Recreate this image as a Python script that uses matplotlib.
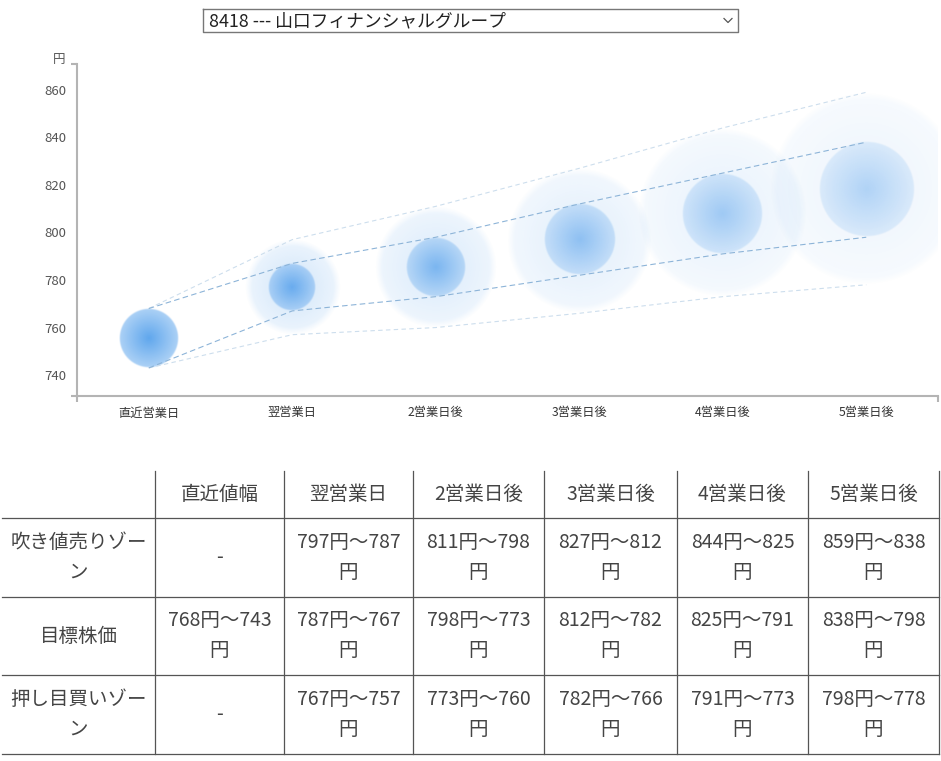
import numpy as np
import matplotlib.pyplot as plt
from matplotlib.colors import to_rgb

plt.rcParams['font.family'] = ['Noto Sans CJK JP', 'DejaVu Sans']

# データ
title = "8418 --- 山口フィナンシャルグループ"
days = ["直近営業日", "翌営業日", "2営業日後", "3営業日後", "4営業日後", "5営業日後"]
col_heads = ["", "直近値幅", "翌営業日", "2営業日後", "3営業日後", "4営業日後", "5営業日後"]
row_labels = ["吹き値売りゾー\nン", "目標株価", "押し目買いゾー\nン"]
target_hi = [768, 787, 798, 812, 825, 838]
target_lo = [743, 767, 773, 782, 791, 798]
sell_hi = [797, 811, 827, 844, 859]   # 翌営業日以降
buy_lo = [757, 760, 766, 773, 778]
yticks = [740, 760, 780, 800, 820, 840, 860]

W, H = 941, 761
fig = plt.figure(figsize=(W / 100, H / 100), dpi=100)

# チャート領域(ピクセル)
ax_l, ax_r, ax_t, ax_b = 77, 938, 64, 396
ylo, yhi = 731.2, 870.9
ax = fig.add_axes([ax_l / W, 1 - ax_b / H, (ax_r - ax_l) / W, (ax_b - ax_t) / H])

px_x = (ax_r - ax_l) / 6.0
px_y = (ax_b - ax_t) / (yhi - ylo)
base = to_rgb("#3d93ea")


def bubble(x, y, r, a0, a1, soft):
    r_px = r * px_y
    rx = r_px / px_x
    n = 300
    g = np.linspace(-1, 1, n)
    X, Y = np.meshgrid(g, g)
    R = np.hypot(X, Y)
    edge = np.clip((1 - R) * r_px / soft, 0, 1)
    img = np.zeros((n, n, 4))
    img[..., :3] = base
    img[..., 3] = (a0 + (a1 - a0) * np.clip(R, 0, 1)) * edge
    ax.imshow(img, extent=[x - rx, x + rx, y - r, y + r], origin="lower",
              interpolation="bilinear", aspect="auto", zorder=2)


xs = np.arange(len(days))
# 日ごとに薄くなる
inner_a0 = [0.82, 0.70, 0.60, 0.50, 0.42, 0.34]
inner_a1 = [0.42, 0.32, 0.26, 0.21, 0.17, 0.13]
outer_a0 = [0, 0.24, 0.20, 0.16, 0.13, 0.10]
outer_a1 = [0, 0.09, 0.08, 0.065, 0.05, 0.04]

for i in xs:
    if i > 0:
        hi, lo = sell_hi[i - 1], buy_lo[i - 1]
        bubble(i, (hi + lo) / 2, (hi - lo) / 2, outer_a0[i], outer_a1[i], 7.0)
    bubble(i, (target_hi[i] + target_lo[i]) / 2, (target_hi[i] - target_lo[i]) / 2,
           inner_a0[i], inner_a1[i], 1.5)

# 破線
ax.plot(xs, [target_hi[0]] + sell_hi, color="#cddeed", lw=0.8, dashes=(4, 3), zorder=3)
ax.plot(xs, [target_lo[0]] + buy_lo, color="#cddeed", lw=0.8, dashes=(4, 3), zorder=3)
ax.plot(xs, target_hi, color="#8db4d8", lw=0.8, dashes=(5, 3), zorder=3)
ax.plot(xs, target_lo, color="#8db4d8", lw=0.8, dashes=(5, 3), zorder=3)

ax.set_xlim(-0.5, 5.5)
ax.set_ylim(ylo, yhi)

for s in ["top", "right"]:
    ax.spines[s].set_visible(False)
for s in ["left", "bottom"]:
    ax.spines[s].set_color("#b4b4b4")
    ax.spines[s].set_linewidth(1.5)

ax.set_xticks(xs)
ax.set_xticklabels(days, fontsize=8.8, color="#333333")
ax.set_yticks(yticks)
ax.set_yticklabels([str(v) for v in yticks], fontsize=9.5, color="#555555")
ax.set_xticks([-0.5, 5.5], minor=True)
ax.set_yticks([ylo, yhi], minor=True)
ax.tick_params(which="major", length=0)
ax.tick_params(axis="y", which="major", pad=8)
ax.tick_params(axis="x", which="major", pad=7.5)
ax.tick_params(which="minor", length=4.3, width=1.5, color="#b4b4b4")

# オーバーレイ(ピクセル座標)
ov = fig.add_axes([0, 0, 1, 1], zorder=5)
ov.set_xlim(0, W)
ov.set_ylim(H, 0)
ov.axis("off")
ov.patch.set_visible(False)

ov.text(59, 60, "円", fontsize=9, color="#555555", ha="center", va="center")

# セレクトボックス
ov.plot([203, 738, 738, 203, 203], [9, 9, 32, 32, 9], color="#777777", lw=1)
ov.text(209, 21, title, fontsize=12.8, color="#222222", ha="left", va="center")
ov.plot([724, 728, 732], [18.5, 22.5, 18.5], color="#555555", lw=0.9)

# 表
col_x = [2, 155, 284, 413, 544, 677, 808, 939]
row_y = [471, 518, 597, 675, 754]
lc = "#555555"
for y in row_y[1:]:
    ov.plot([col_x[0], col_x[-1]], [y, y], color=lc, lw=0.9)
for x in col_x[1:]:
    ov.plot([x, x], [row_y[0], row_y[-1]], color=lc, lw=0.9)

tc = "#444444"
fs = 14


def cell(text, c, r):
    cx = (col_x[c] + col_x[c + 1]) / 2
    cy = (row_y[r] + row_y[r + 1]) / 2
    lines = text.split("\n")
    off = (len(lines) - 1) * 15
    for k, t in enumerate(lines):
        ov.text(cx, cy - off + 30 * k, t, fontsize=fs, color=tc, ha="center", va="center")


for c, h in enumerate(col_heads):
    if h:
        cell(h, c, 0)

for r, lab in enumerate(row_labels):
    cell(lab, 0, r + 1)

cell("-", 1, 1)
cell("-", 1, 3)
cell(f"{target_hi[0]}円〜{target_lo[0]}\n円", 1, 2)
for i in range(1, 6):
    cell(f"{sell_hi[i - 1]}円〜{target_hi[i]}\n円", i + 1, 1)
    cell(f"{target_hi[i]}円〜{target_lo[i]}\n円", i + 1, 2)
    cell(f"{target_lo[i]}円〜{buy_lo[i - 1]}\n円", i + 1, 3)

fig.savefig("out.png", dpi=100)
